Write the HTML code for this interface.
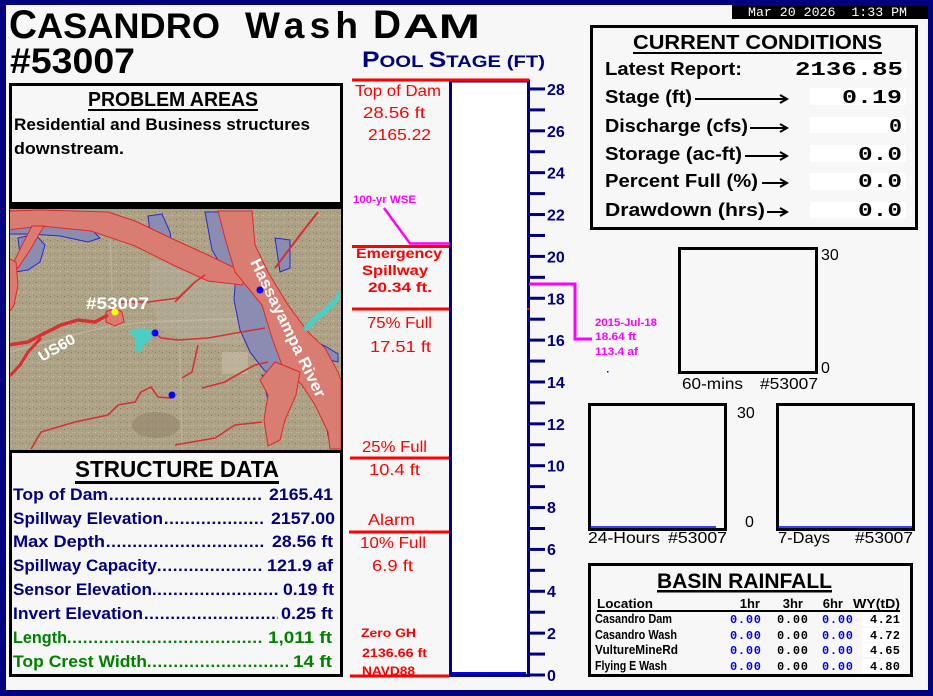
<!DOCTYPE html>
<html><head><meta charset="utf-8"><style>
html,body{margin:0;padding:0;background:#000080;width:933px;height:696px;overflow:hidden}
svg{display:block}
text{font-family:"Liberation Sans",sans-serif}
.m{font-family:"Liberation Mono",monospace;font-weight:bold}
.b{font-weight:bold}
</style></head><body>
<svg width="933" height="696" viewBox="0 0 933 696" xmlns="http://www.w3.org/2000/svg">
<defs>
<clipPath id="mc"><rect x="10" y="209" width="331" height="241"/></clipPath>
<pattern id="tx" width="7" height="7" patternUnits="userSpaceOnUse">
<rect width="7" height="7" fill="#ada286"/>
<rect x="1" y="2" width="1" height="1" fill="#7d7a62"/>
<rect x="4" y="5" width="1" height="1" fill="#cbc2a9"/>
<rect x="5" y="1" width="1" height="1" fill="#8e8a70"/>
<rect x="2" y="5" width="1" height="1" fill="#bfb59b"/>
</pattern>
</defs>
<rect width="933" height="696" fill="#000080"/>
<rect x="6" y="5" width="922" height="685" fill="#f7f7f7"/>

<!-- date -->
<rect x="732" y="5" width="196" height="14" fill="#000"/>
<text x="748" y="16" font-size="13" fill="#fff" style="font-family:'Liberation Mono',monospace;white-space:pre" textLength="159" lengthAdjust="spacingAndGlyphs">Mar 20 2026  1:33 PM</text>

<!-- Title -->
<text x="9" y="38" font-size="40" class="b" fill="#000" textLength="28" lengthAdjust="spacingAndGlyphs">C</text>
<text x="37" y="38" font-size="35" class="b" fill="#000" textLength="183" lengthAdjust="spacingAndGlyphs">ASANDRO</text>
<text x="245" y="38" font-size="37" class="b" fill="#000" textLength="113" lengthAdjust="spacing">Wash</text>
<text x="373" y="38" font-size="40" class="b" fill="#000" textLength="28" lengthAdjust="spacingAndGlyphs">D</text>
<text x="403" y="38" font-size="34" class="b" fill="#000" textLength="77" lengthAdjust="spacingAndGlyphs">AM</text>
<text x="10" y="73" font-size="35" class="b" fill="#000" textLength="125" lengthAdjust="spacingAndGlyphs">#53007</text>

<!-- Pool stage title -->
<text x="362" y="67" class="b" fill="#000080" textLength="183" lengthAdjust="spacingAndGlyphs" style="white-space:pre"><tspan font-size="22">P</tspan><tspan font-size="17">OOL </tspan><tspan font-size="22">S</tspan><tspan font-size="17">TAGE (FT)</tspan></text>

<!-- Problem areas box -->
<rect x="10.5" y="84.5" width="331" height="119" fill="none" stroke="#000" stroke-width="3"/>
<text x="88" y="106" font-size="20" class="b" fill="#000" textLength="170" lengthAdjust="spacingAndGlyphs">PROBLEM AREAS</text>
<rect x="88" y="109" width="170" height="2" fill="#000"/>
<text x="14" y="130" font-size="17" class="b" fill="#000" textLength="296" lengthAdjust="spacingAndGlyphs">Residential and Business structures</text>
<text x="14" y="154" font-size="17" class="b" fill="#000" textLength="110" lengthAdjust="spacingAndGlyphs">downstream.</text>

<!-- Map -->
<rect x="9" y="204" width="334" height="247" fill="#000"/>
<g clip-path="url(#mc)">
<rect x="10" y="209" width="331" height="241" fill="url(#tx)"/>
<path d="M150,260 L225,262 L250,285 L255,330 L240,345 L190,342 L160,330 L150,300 Z" fill="#bdb7aa" opacity="0.35"/>
<rect x="222" y="352" width="26" height="22" fill="#c9bea9" opacity="0.6"/>
<ellipse cx="156" cy="425" rx="24" ry="13" fill="#8b7b66" opacity="0.45"/>
<g stroke="#c8c2b4" stroke-width="1.5" fill="none" opacity="0.5">
<path d="M10,352 L60,338 L110,326 L150,322 L250,318"/>
<path d="M180,345 L182,450"/>
<path d="M110,230 L112,290"/>
</g>
<g fill="#8b8cb2" stroke="#2a2ac8" stroke-width="1">
<path d="M8,220 L41,224 L91,229 L100,238 L88,242 L60,236 L30,234 L8,234 Z"/>
<path d="M18,238 L35,234 L45,245 L40,262 L28,270 L15,272 L20,255 Z"/>
<path d="M148,216 L162,214 L170,232 L172,246 L160,244 L150,232 Z"/>
<path d="M205,212 L220,212 L226,240 L235,270 L225,272 L212,250 Z"/>
<path d="M236,272 L262,298 L274,335 L284,360 L292,372 L280,380 L264,370 L250,352 L240,330 L234,300 Z"/>
<path d="M275,238 L290,240 L290,268 L280,272 Z"/>
<path d="M290,332 L325,346 L338,354 L338,362 L320,358 L298,350 Z"/>
<path d="M262,375 L292,380 L290,400 L268,400 Z"/>
<path d="M325,420 L341,415 L341,445 L330,445 Z"/>
</g>
<g fill="#d97c72" stroke="#e02828" stroke-width="1">
<path d="M8,211 L40,210 L108,212 L135,221 L175,240 L208,255 L235,268 L245,280 L242,285 L208,281 L175,266 L135,246 L91,231 L41,226 L8,230 Z"/>
<path d="M32,226 L44,226 L30,250 L18,268 L12,266 L22,245 Z"/>
<path d="M8,258 L16,262 L18,285 L14,305 L8,314 Z"/>
<path d="M218,211 L252,211 L255,245 L268,272 L288,305 L308,332 L325,348 L338,372 L341,380 L341,449 L330,449 L328,432 L315,405 L302,385 L282,365 L272,338 L262,305 L235,272 L225,238 Z"/>
<path d="M275,362 L300,372 L296,395 L285,420 L280,440 L268,446 L264,420 L268,395 L260,380 Z"/>
<path d="M106,312 L114,308 L122,312 L124,322 L115,326 L106,322 Z"/>
</g>
<g stroke="#d83030" fill="none">
<path d="M8,345 L28,342 L41,335 L61,325 L78,320 L95,322 L108,315" stroke-width="3.5"/>
<path d="M8,378 L20,365 L28,352 L41,338" stroke-width="3"/>
<path d="M275,268 L300,235 L318,212" stroke-width="2"/>
<g stroke-width="1.6">
<path d="M121,302 L148,302 L178,298 L195,282 L205,275"/>
<path d="M155,333 L161,338 L178,340 L208,338 L242,332 L265,328"/>
<path d="M202,388 L225,382 L242,372 L255,365 L268,362"/>
<path d="M31,449 L41,432 L75,422 L108,415 L118,405 L135,402 L141,392 L151,387 L158,397 L171,398 L175,395"/>
<path d="M175,445 L215,438 L235,425 L262,422"/>
<path d="M182,378 L192,372 L198,345"/>
<path d="M175,302 L195,282"/>
</g>
</g>
<path d="M128,331 L140,328 L155,330 L152,338 L145,344 L140,352 L134,350 L136,340 Z" fill="#4ccfc2"/>
<path d="M303,328 L312,318 L324,308 L335,298 L338,290 L341,292 L338,302 L328,312 L316,322 L306,332 Z" fill="#4ccfc2"/>
<circle cx="115" cy="312" r="3.5" fill="#ffff00"/>
<circle cx="155" cy="333" r="3.5" fill="#0000ff"/>
<circle cx="260" cy="290" r="3.5" fill="#0000ff"/>
<circle cx="172" cy="395" r="3.5" fill="#0000ff"/>
<text x="86" y="309" font-size="17" class="b" fill="#fff" textLength="63" lengthAdjust="spacingAndGlyphs">#53007</text>
<text x="42" y="362" font-size="15" class="b" fill="#fff" transform="rotate(-30 42 362)" textLength="40" lengthAdjust="spacingAndGlyphs">US60</text>
<text x="250" y="262" font-size="16" class="b" fill="#fff" transform="rotate(64 250 262)" textLength="152" lengthAdjust="spacingAndGlyphs">Hassayampa River</text>
</g>

<!-- Structure data -->
<rect x="10.5" y="451.5" width="331" height="224" fill="#f7f7f7" stroke="#000" stroke-width="3"/>
<text x="75" y="477" font-size="23" class="b" fill="#000" textLength="204" lengthAdjust="spacingAndGlyphs">STRUCTURE DATA</text>
<rect x="75" y="481" width="204" height="3" fill="#000"/>
<g font-size="17" class="b">
<g fill="#000080">
<text x="13" y="500" textLength="95" lengthAdjust="spacingAndGlyphs" class="b">Top of Dam</text>
<text x="269" y="500" textLength="64" lengthAdjust="spacingAndGlyphs" class="b">2165.41</text>
<text x="13" y="524" textLength="150" lengthAdjust="spacingAndGlyphs" class="b">Spillway Elevation</text>
<text x="271" y="524" textLength="64" lengthAdjust="spacingAndGlyphs" class="b">2157.00</text>
<text x="13" y="547" textLength="92" lengthAdjust="spacingAndGlyphs" class="b">Max Depth</text>
<text x="272" y="547" textLength="61" lengthAdjust="spacingAndGlyphs" class="b">28.56 ft</text>
<text x="13" y="571" textLength="144" lengthAdjust="spacingAndGlyphs" class="b">Spillway Capacity</text>
<text x="267" y="571" textLength="66" lengthAdjust="spacingAndGlyphs" class="b">121.9 af</text>
<text x="13" y="595" textLength="139" lengthAdjust="spacingAndGlyphs" class="b">Sensor Elevation</text>
<text x="283" y="595" textLength="51" lengthAdjust="spacingAndGlyphs" class="b">0.19 ft</text>
<text x="13" y="619" textLength="130" lengthAdjust="spacingAndGlyphs" class="b">Invert Elevation</text>
<text x="281" y="619" textLength="52" lengthAdjust="spacingAndGlyphs" class="b">0.25 ft</text>
</g>
<g fill="#008000">
<text x="13" y="643" textLength="54" lengthAdjust="spacingAndGlyphs" class="b">Length</text>
<text x="268" y="643" textLength="64" lengthAdjust="spacingAndGlyphs" class="b">1,011 ft</text>
<text x="13" y="667" textLength="134" lengthAdjust="spacingAndGlyphs" class="b">Top Crest Width</text>
<text x="293" y="667" textLength="39" lengthAdjust="spacingAndGlyphs" class="b">14 ft</text>
</g>
</g>
<g stroke-width="2.4" stroke-dasharray="2.4 2.9" fill="none">
<line x1="110" y1="498.8" x2="261" y2="498.8" stroke="#000080"/>
<line x1="165" y1="522.8" x2="263" y2="522.8" stroke="#000080"/>
<line x1="107" y1="545.8" x2="266" y2="545.8" stroke="#000080"/>
<line x1="158" y1="569.8" x2="263" y2="569.8" stroke="#000080"/>
<line x1="153" y1="593.8" x2="278" y2="593.8" stroke="#000080"/>
<line x1="145" y1="617.8" x2="278" y2="617.8" stroke="#000080"/>
<line x1="68" y1="641.8" x2="264" y2="641.8" stroke="#008000"/>
<line x1="148" y1="665.8" x2="288" y2="665.8" stroke="#008000"/>
</g>

<!-- Gauge tube -->
<rect x="450.5" y="81" width="78" height="594.5" fill="#fff" stroke="#000080" stroke-width="3"/>
<line x1="452" y1="673" x2="526" y2="673" stroke="#0000ff" stroke-width="2"/>
<g stroke="#000080" stroke-width="3">
<line x1="529" y1="675" x2="545" y2="675"/><line x1="529" y1="654.07" x2="545" y2="654.07"/><line x1="529" y1="633.14" x2="545" y2="633.14"/><line x1="529" y1="612.21" x2="545" y2="612.21"/><line x1="529" y1="591.28" x2="545" y2="591.28"/><line x1="529" y1="570.35" x2="545" y2="570.35"/><line x1="529" y1="549.42" x2="545" y2="549.42"/><line x1="529" y1="528.49" x2="545" y2="528.49"/><line x1="529" y1="507.56" x2="545" y2="507.56"/><line x1="529" y1="486.63" x2="545" y2="486.63"/><line x1="529" y1="465.7" x2="545" y2="465.7"/><line x1="529" y1="444.77" x2="545" y2="444.77"/><line x1="529" y1="423.84" x2="545" y2="423.84"/><line x1="529" y1="402.91" x2="545" y2="402.91"/><line x1="529" y1="381.98" x2="545" y2="381.98"/><line x1="529" y1="361.05" x2="545" y2="361.05"/><line x1="529" y1="340.12" x2="545" y2="340.12"/><line x1="529" y1="319.19" x2="545" y2="319.19"/><line x1="529" y1="298.26" x2="545" y2="298.26"/><line x1="529" y1="277.33" x2="545" y2="277.33"/><line x1="529" y1="256.4" x2="545" y2="256.4"/><line x1="529" y1="235.47" x2="545" y2="235.47"/><line x1="529" y1="214.54" x2="545" y2="214.54"/><line x1="529" y1="193.61" x2="545" y2="193.61"/><line x1="529" y1="172.68" x2="545" y2="172.68"/><line x1="529" y1="151.75" x2="545" y2="151.75"/><line x1="529" y1="130.82" x2="545" y2="130.82"/><line x1="529" y1="109.89" x2="545" y2="109.89"/><line x1="529" y1="88.96" x2="545" y2="88.96"/>
</g>
<g fill="#000080" font-size="16" class="b">
<text x="547" y="681" class="b">0</text><text x="547" y="639" class="b">2</text><text x="547" y="597" class="b">4</text><text x="547" y="555" class="b">6</text><text x="547" y="513" class="b">8</text><text x="547" y="471.7" class="b">10</text><text x="547" y="429.8" class="b">12</text><text x="547" y="388" class="b">14</text><text x="547" y="346" class="b">16</text><text x="547" y="304.3" class="b">18</text><text x="547" y="262.4" class="b">20</text><text x="547" y="220.5" class="b">22</text><text x="547" y="178.7" class="b">24</text><text x="547" y="136.8" class="b">26</text><text x="547" y="95" class="b">28</text>
</g>

<!-- red level lines -->
<g stroke="#ff0000" stroke-width="3">
<line x1="352" y1="80" x2="529" y2="80"/>
<line x1="352" y1="246.5" x2="449" y2="246.5"/>
<line x1="352" y1="309" x2="449" y2="309"/>
<line x1="350" y1="458" x2="449" y2="458"/>
<line x1="349" y1="532" x2="449" y2="532"/>
<line x1="350" y1="676" x2="449" y2="676"/>
</g>
<rect x="527" y="308" width="3" height="2" fill="#ff0000"/>

<g fill="#ff0000" font-size="16">
<text x="355" y="96" textLength="86" lengthAdjust="spacingAndGlyphs">Top of Dam</text>
<text x="363" y="118" textLength="62" lengthAdjust="spacingAndGlyphs">28.56 ft</text>
<text x="368" y="140" textLength="63" lengthAdjust="spacingAndGlyphs">2165.22</text>
<text x="367" y="328" textLength="65" lengthAdjust="spacingAndGlyphs">75% Full</text>
<text x="370" y="352" textLength="61" lengthAdjust="spacingAndGlyphs">17.51 ft</text>
<text x="362" y="452" textLength="65" lengthAdjust="spacingAndGlyphs">25% Full</text>
<text x="369" y="475" textLength="51" lengthAdjust="spacingAndGlyphs">10.4 ft</text>
<text x="368" y="525" textLength="47" lengthAdjust="spacingAndGlyphs">Alarm</text>
<text x="360" y="548" textLength="66" lengthAdjust="spacingAndGlyphs">10% Full</text>
<text x="372" y="571" textLength="41" lengthAdjust="spacingAndGlyphs">6.9 ft</text>
</g>
<g fill="#ff0000" font-size="14" class="b">
<text x="356" y="258" textLength="86" lengthAdjust="spacingAndGlyphs" class="b">Emergency</text>
<text x="362" y="275" textLength="66" lengthAdjust="spacingAndGlyphs" class="b">Spillway</text>
<text x="368" y="292" textLength="64" lengthAdjust="spacingAndGlyphs" class="b">20.34 ft.</text>
</g>
<g fill="#ff0000" font-size="12" class="b">
<text x="361" y="637" textLength="55" lengthAdjust="spacingAndGlyphs" class="b">Zero GH</text>
<text x="362" y="657" textLength="65" lengthAdjust="spacingAndGlyphs" class="b">2136.66 ft</text>
<text x="362" y="675" textLength="53" lengthAdjust="spacingAndGlyphs" class="b">NAVD88</text>
</g>

<!-- magenta -->
<text x="353" y="203" font-size="11" class="b" fill="#ff00ff" textLength="63" lengthAdjust="spacingAndGlyphs">100-yr WSE</text>
<polyline points="384,208 410,243.5 450,243.5" fill="none" stroke="#ff00ff" stroke-width="2.5"/>
<polyline points="529,284 575,284 575,339 592,339" fill="none" stroke="#ff00ff" stroke-width="3"/>
<g fill="#ff00ff" font-size="11" class="b">
<text x="595" y="326" textLength="62" lengthAdjust="spacingAndGlyphs" class="b">2015-Jul-18</text>
<text x="595" y="340" textLength="41" lengthAdjust="spacingAndGlyphs" class="b">18.64 ft</text>
<text x="595" y="355" textLength="43" lengthAdjust="spacingAndGlyphs" class="b">113.4 af</text>
</g>
<rect x="607" y="371" width="1.5" height="1.5" fill="#0000ff"/>

<!-- Current conditions -->
<rect x="591.5" y="26.5" width="325" height="202" fill="none" stroke="#000" stroke-width="3"/>
<text x="633" y="49" font-size="20" class="b" fill="#000" textLength="249" lengthAdjust="spacingAndGlyphs">CURRENT CONDITIONS</text>
<rect x="633" y="52" width="249" height="2" fill="#000"/>
<g fill="#fff">
<rect x="793" y="60" width="114" height="18"/>
<rect x="810" y="88" width="96" height="17"/>
<rect x="810" y="117" width="96" height="16"/>
<rect x="810" y="145" width="96" height="17"/>
<rect x="810" y="173" width="96" height="17"/>
<rect x="810" y="202" width="96" height="16"/>
</g>
<g fill="#000" font-size="18" class="b">
<text x="605" y="75" textLength="137" lengthAdjust="spacingAndGlyphs" class="b">Latest Report:</text>
<text x="605" y="103" textLength="87" lengthAdjust="spacingAndGlyphs" class="b">Stage (ft)</text>
<text x="605" y="132" textLength="143" lengthAdjust="spacingAndGlyphs" class="b">Discharge (cfs)</text>
<text x="605" y="160" textLength="137" lengthAdjust="spacingAndGlyphs" class="b">Storage (ac-ft)</text>
<text x="605" y="187" textLength="153" lengthAdjust="spacingAndGlyphs" class="b">Percent Full (%)</text>
<text x="605" y="216" textLength="160" lengthAdjust="spacingAndGlyphs" class="b">Drawdown (hrs)</text>
</g>
<g stroke="#000" stroke-width="2" fill="none">
<line x1="695" y1="99" x2="787" y2="99"/><polyline points="780,95 787,99 780,103"/>
<line x1="750" y1="128" x2="787" y2="128"/><polyline points="780,124 787,128 780,132"/>
<line x1="745" y1="156" x2="787" y2="156"/><polyline points="780,152 787,156 780,160"/>
<line x1="762" y1="183" x2="787" y2="183"/><polyline points="780,179 787,183 780,187"/>
<line x1="767" y1="212" x2="787" y2="212"/><polyline points="780,208 787,212 780,216"/>
</g>
<g fill="#000" font-size="19" class="m">
<text x="795" y="75" class="m" textLength="108" lengthAdjust="spacingAndGlyphs">2136.85</text>
<text x="842" y="103" class="m" textLength="60" lengthAdjust="spacingAndGlyphs">0.19</text>
<text x="889" y="132" class="m" textLength="13" lengthAdjust="spacingAndGlyphs">0</text>
<text x="858" y="160" class="m" textLength="44" lengthAdjust="spacingAndGlyphs">0.0</text>
<text x="858" y="187" class="m" textLength="44" lengthAdjust="spacingAndGlyphs">0.0</text>
<text x="858" y="216" class="m" textLength="44" lengthAdjust="spacingAndGlyphs">0.0</text>
</g>

<!-- small charts -->
<g fill="none" stroke="#000" stroke-width="3">
<rect x="679.5" y="248.5" width="137" height="124"/>
<rect x="589.5" y="404.5" width="136" height="125"/>
<rect x="777.5" y="404.5" width="136" height="125"/>
</g>
<line x1="590" y1="527" x2="716" y2="527" stroke="#0000ff" stroke-width="1.5"/>
<line x1="778" y1="527" x2="912" y2="527" stroke="#0000ff" stroke-width="1.5"/>
<g fill="#000" font-size="16">
<text x="821" y="260">30</text>
<text x="821" y="373">0</text>
<text x="682" y="389" textLength="61" lengthAdjust="spacingAndGlyphs">60-mins</text>
<text x="760" y="389" textLength="58" lengthAdjust="spacingAndGlyphs">#53007</text>
<text x="737" y="418">30</text>
<text x="745" y="527">0</text>
<text x="588" y="543" textLength="72" lengthAdjust="spacingAndGlyphs">24-Hours</text>
<text x="668" y="543" textLength="59" lengthAdjust="spacingAndGlyphs">#53007</text>
<text x="778" y="543" textLength="52" lengthAdjust="spacingAndGlyphs">7-Days</text>
<text x="855" y="543" textLength="58" lengthAdjust="spacingAndGlyphs">#53007</text>
</g>

<!-- Basin rainfall -->
<rect x="589.5" y="564.5" width="322" height="111" fill="none" stroke="#000" stroke-width="3"/>
<text x="657" y="588" font-size="21" class="b" fill="#000" textLength="175" lengthAdjust="spacingAndGlyphs">BASIN RAINFALL</text>
<rect x="657" y="590" width="175" height="2.5" fill="#000"/>
<g fill="#000" font-size="13" class="b">
<text x="597" y="608" textLength="56" lengthAdjust="spacingAndGlyphs" class="b">Location</text>
<text x="760" y="608" text-anchor="end" class="b">1hr</text>
<text x="803" y="608" text-anchor="end" class="b">3hr</text>
<text x="843" y="608" text-anchor="end" class="b">6hr</text>
<text x="853" y="608" textLength="47" lengthAdjust="spacingAndGlyphs" class="b">WY(tD)</text>
</g>
<rect x="597" y="610" width="303" height="2" fill="#000"/>
<g fill="#000" font-size="12.5" class="b">
<text x="595" y="623" textLength="77" lengthAdjust="spacingAndGlyphs" class="b">Casandro Dam</text>
<text x="595" y="639" textLength="82" lengthAdjust="spacingAndGlyphs" class="b">Casandro Wash</text>
<text x="595" y="654" textLength="83" lengthAdjust="spacingAndGlyphs" class="b">VultureMineRd</text>
<text x="595" y="670" textLength="72" lengthAdjust="spacingAndGlyphs" class="b">Flying E Wash</text>
</g>
<g fill="#fff">
<rect x="862" y="612" width="40" height="14"/>
<rect x="862" y="628" width="40" height="14"/>
<rect x="862" y="643" width="40" height="14"/>
<rect x="862" y="659" width="40" height="14"/>
</g>
<g font-size="12" class="m">
<g fill="#0000ff">
<text x="730" y="623" class="m" textLength="31">0.00</text><text x="822" y="623" class="m" textLength="31">0.00</text>
<text x="730" y="639" class="m" textLength="31">0.00</text><text x="822" y="639" class="m" textLength="31">0.00</text>
<text x="730" y="654" class="m" textLength="31">0.00</text><text x="822" y="654" class="m" textLength="31">0.00</text>
<text x="730" y="670" class="m" textLength="31">0.00</text><text x="822" y="670" class="m" textLength="31">0.00</text>
</g>
<g fill="#000">
<text x="777" y="623" class="m" textLength="31">0.00</text><text x="870" y="623" class="m" textLength="30">4.21</text>
<text x="777" y="639" class="m" textLength="31">0.00</text><text x="870" y="639" class="m" textLength="30">4.72</text>
<text x="777" y="654" class="m" textLength="31">0.00</text><text x="870" y="654" class="m" textLength="30">4.65</text>
<text x="777" y="670" class="m" textLength="31">0.00</text><text x="870" y="670" class="m" textLength="30">4.80</text>
</g>
</g>
</svg>
</body></html>
